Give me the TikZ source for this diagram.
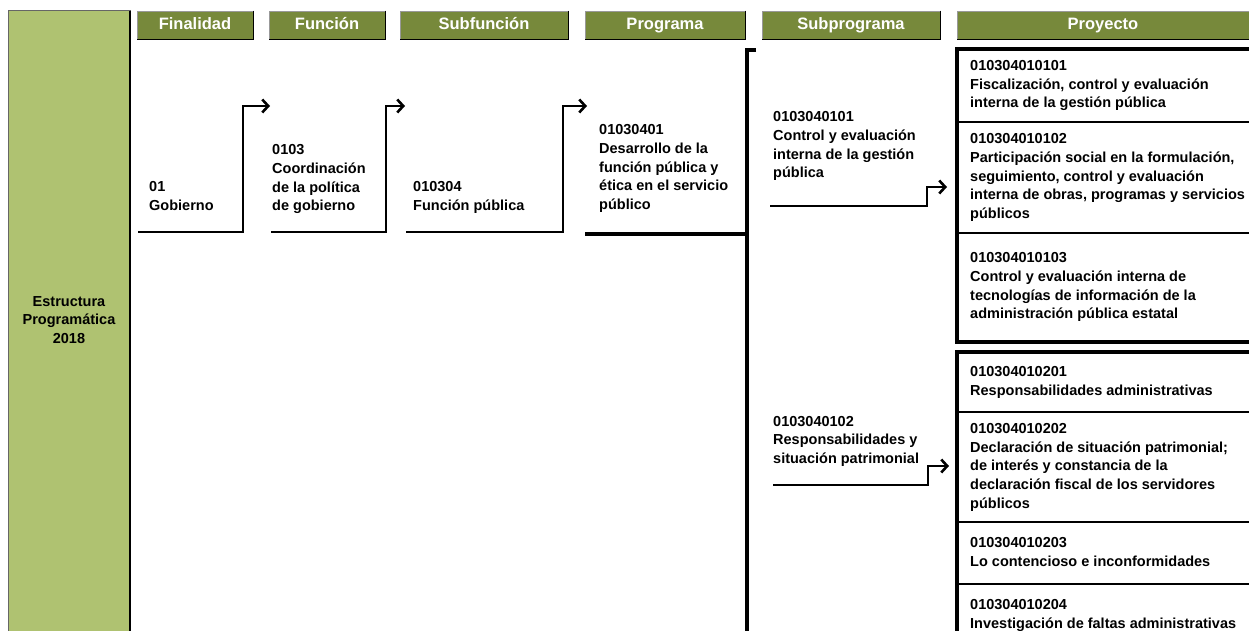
\documentclass[tikz,border=0pt]{standalone}
\usepackage{fontspec}
\setmainfont{Liberation Sans}
\usetikzlibrary{arrows.meta}
\definecolor{hdrfill}{HTML}{77893B}
\definecolor{colfill}{HTML}{AFC271}
\begin{document}
\begin{tikzpicture}[x=1pt,y=-1pt,
  body/.style={font=\fontsize{14.5}{18.7}\selectfont\bfseries, align=left, inner sep=0pt, anchor=west},
  hdrbox/.style={fill=hdrfill, draw=black!40, line width=0.8pt, inner sep=0pt, minimum height=28pt,
    text height=12pt, text depth=3.5pt,
    text=white, font=\fontsize{16.5}{19}\selectfont\bfseries},
  hdrshade/.style={draw=black, line width=1.4pt},
  arr/.style={line width=2.8pt, -{Straight Barb[length=6pt,width=13pt,line width=2.6pt]}},
  thickline/.style={line width=3.6pt},
  groupbox/.style={line width=4pt},
  divider/.style={line width=1.6pt}
]
\useasboundingbox (0,0) rectangle (1249,631);
\clip (0,0) rectangle (1249,631);
\fill[white] (0,0) rectangle (1249,631);

% left column
\draw[fill=colfill, draw=black!60, line width=1pt] (8,11) rectangle (130,650);
\draw[black, line width=1.4pt] (130,11) -- (130,650);
\node[font=\fontsize{14.5}{18.7}\selectfont\bfseries, align=center, inner sep=0pt] (colt) at (69,321)
  {\strut Estructura\\Programática\\2018\strut};

% headers
\node[hdrbox, minimum width=116pt] (h1) at (195,25) {Finalidad};
\node[hdrbox, minimum width=116pt] (h2) at (327,25) {Función};
\node[hdrbox, minimum width=168pt] (h3) at (484,25) {Subfunción};
\node[hdrbox, minimum width=160pt] (h4) at (665,25) {Programa};
\node[hdrbox, minimum width=178pt] (h5) at (851,25) {Subprograma};
\node[hdrbox, minimum width=292pt] (h6) at (1103,25) {Proyecto};
\foreach \h in {h1,h2,h3,h4,h5,h6}{
  \draw[hdrshade] (\h.north east) -- (\h.south east) -- (\h.south west);
}

% level texts
\node[body] (fin) at (149,197.5) {\strut 01\\Gobierno\strut};
\node[body] (fun) at (272,179) {\strut 0103\\Coordinación\\de la política\\de gobierno\strut};
\node[body] (sub) at (413,197.5) {\strut 010304\\Función pública\strut};
\node[body] (pro) at (599,168.5) {\strut 01030401\\Desarrollo de la\\función pública y\\ética en el servicio\\público\strut};
\node[body] (sp1) at (773,146) {\strut 0103040101\\Control y evaluación\\interna de la gestión\\pública\strut};
\node[body] (sp2) at (773,441) {\strut 0103040102\\Responsabilidades y\\situación patrimonial\strut};

% step arrows
\coordinate (a1) at (138,232); \coordinate (b1) at (243,232); \coordinate (c1) at (270,106);
\coordinate (a2) at (271,232); \coordinate (b2) at (386,232); \coordinate (c2) at (405,106);
\coordinate (a3) at (406,232); \coordinate (b3) at (563,232); \coordinate (c3) at (587,106);
\draw[arr] (a1) -- (b1) |- (c1);
\draw[arr] (a2) -- (b2) |- (c2);
\draw[arr] (a3) -- (b3) |- (c3);

% programa line and bracket
\coordinate (p1) at (585,234); \coordinate (p2) at (747,234);
\coordinate (k1) at (756,50); \coordinate (k2) at (747,50); \coordinate (k3) at (747,650);
\draw[thickline] (p1) -- (p2);
\draw[thickline] (k1) -- (k2) -- (k3);

% subprograma arrows
\coordinate (s1a) at (770,206); \coordinate (s1b) at (927,206); \coordinate (s1c) at (947,187);
\coordinate (s2a) at (773,485); \coordinate (s2b) at (928,485); \coordinate (s2c) at (949,466);
\draw[arr] (s1a) -- (s1b) |- (s1c);
\draw[arr] (s2a) -- (s2b) |- (s2c);

% proyecto groups
\draw[groupbox] (957,49) rectangle (1262,342);
\draw[divider] (957,122) -- (1262,122);
\draw[divider] (957,233) -- (1262,233);
\draw[groupbox] (957,352) rectangle (1262,660);
\draw[divider] (957,412) -- (1262,412);
\draw[divider] (957,522) -- (1262,522);
\draw[divider] (957,584) -- (1262,584);

\node[body] (y1) at (970,85.5) {\strut 010304010101\\Fiscalización, control y evaluación\\interna de la gestión pública\strut};
\node[body] (y2) at (970,177.5) {\strut 010304010102\\Participación social en la formulación,\\seguimiento, control y evaluación\\interna de obras, programas y servicios\\públicos\strut};
\node[body] (y3) at (970,287) {\strut 010304010103\\Control y evaluación interna de\\tecnologías de información de la\\administración pública estatal\strut};
\node[body] (y4) at (970,382) {\strut 010304010201\\Responsabilidades administrativas\strut};
\node[body] (y5) at (970,467) {\strut 010304010202\\Declaración de situación patrimonial;\\de interés y constancia de la\\declaración fiscal de los servidores\\públicos\strut};
\node[body] (y6) at (970,553) {\strut 010304010203\\Lo contencioso e inconformidades\strut};
\node[body] (y7) at (970,615) {\strut 010304010204\\Investigación de faltas administrativas\strut};
\end{tikzpicture}
\end{document}
